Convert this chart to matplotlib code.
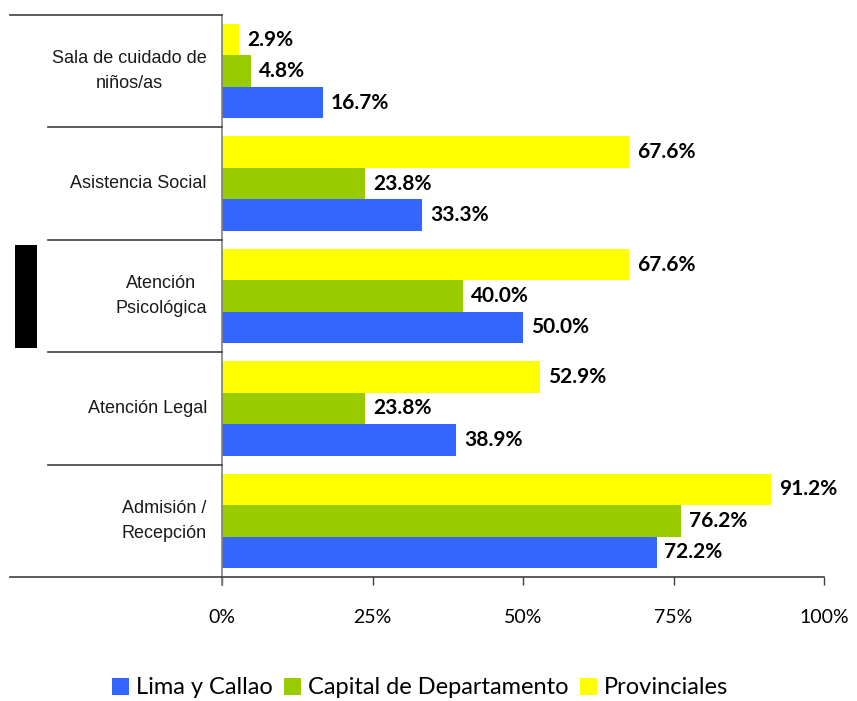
import matplotlib
matplotlib.use("Agg")
import matplotlib.pyplot as plt
from matplotlib.lines import Line2D
from matplotlib.patches import Rectangle, Patch
import numpy as np

categories = ["Sala de cuidado de\nniños/as", "Asistencia Social", "Atención\nPsicológica",
              "Atención Legal", "Admisión /\nRecepción"]
lima = [16.7, 33.3, 50.0, 38.9, 72.2]
capital = [4.8, 23.8, 40.0, 23.8, 76.2]
provincias = [2.9, 67.6, 67.6, 52.9, 91.2]
series_names = ["Lima y Callao", "Capital de Departamento", "Provinciales"]
tick_values = [0, 25, 50, 75, 100]
tick_labels = ["0%", "25%", "50%", "75%", "100%"]

c_blue = "#3366FF"
c_green = "#99CC00"
c_yellow = "#FFFF00"

W, H = 857, 701
fig = plt.figure(figsize=(W / 100, H / 100), dpi=100)
ax = fig.add_axes([222 / W, 1 - 577 / H, (824 - 222) / W, (577 - 15) / H])

n = len(categories)
centers = np.array([n - 0.5 - i for i in range(n)])
bh = 0.28

series = [(lima, c_blue, -bh), (capital, c_green, 0.0), (provincias, c_yellow, bh)]
for vals, col, off in series:
    ax.barh(centers + off, vals, height=bh, color=col, edgecolor="none", zorder=2)
    for y, v in zip(centers + off, vals):
        ax.text(v + 1.3, y, f"{v:.1f}%", va="center", ha="left",
                fontsize=15, fontweight="bold", family="Lato", color="black")

ax.set_xlim(0, 100)
ax.set_ylim(0, n)
for s in ["top", "right", "bottom"]:
    ax.spines[s].set_visible(False)
ax.spines["left"].set_color("#808080")
ax.spines["left"].set_linewidth(1.2)
ax.set_yticks([])
ax.set_xticks(tick_values)
ax.set_xticklabels(tick_labels, family="Lato", fontsize=14)
ax.tick_params(axis="x", length=6, width=1.0, color="#404040", pad=17)

# left spine extension below the axis
ax.add_line(Line2D([0, 0], [0, -8 / 562 * n], transform=ax.transData, color="#808080",
                   lw=1.2, clip_on=False))

tr = fig.transFigure
def fx(px):
    return px / W
def fy(py):
    return 1 - py / H

# category separators
fig.add_artist(Line2D([fx(10), fx(222)], [fy(15), fy(15)], color="#404040", lw=1.2))
for py in [127.4, 239.8, 352.2, 464.6]:
    fig.add_artist(Line2D([fx(48), fx(222)], [fy(py), fy(py)], color="#404040", lw=1.2))
fig.add_artist(Line2D([fx(10), fx(824)], [fy(577), fy(577)], color="#404040", lw=1.2))

for c, y in zip(categories, centers):
    ax.text(-2.5, y, c, ha="right", va="center", multialignment="center",
            family="Liberation Sans", fontsize=13, linespacing=1.65, color="#1a1a1a")

# black block at the left
fig.add_artist(Rectangle((fx(15), fy(348)), (37 - 15) / W, (348 - 245) / H,
                         transform=tr, color="black", lw=0))

handles = [Patch(facecolor=c_blue, edgecolor="none"),
           Patch(facecolor=c_green, edgecolor="none"),
           Patch(facecolor=c_yellow, edgecolor="none")]
fig.legend(handles, series_names, loc="center", bbox_to_anchor=(fx(420), fy(688)),
           ncol=3, frameon=False, prop={"family": "Lato", "size": 17},
           handlelength=0.7, handleheight=0.7, handletextpad=0.3, columnspacing=0.5)

fig.savefig("out.png", dpi=100)
